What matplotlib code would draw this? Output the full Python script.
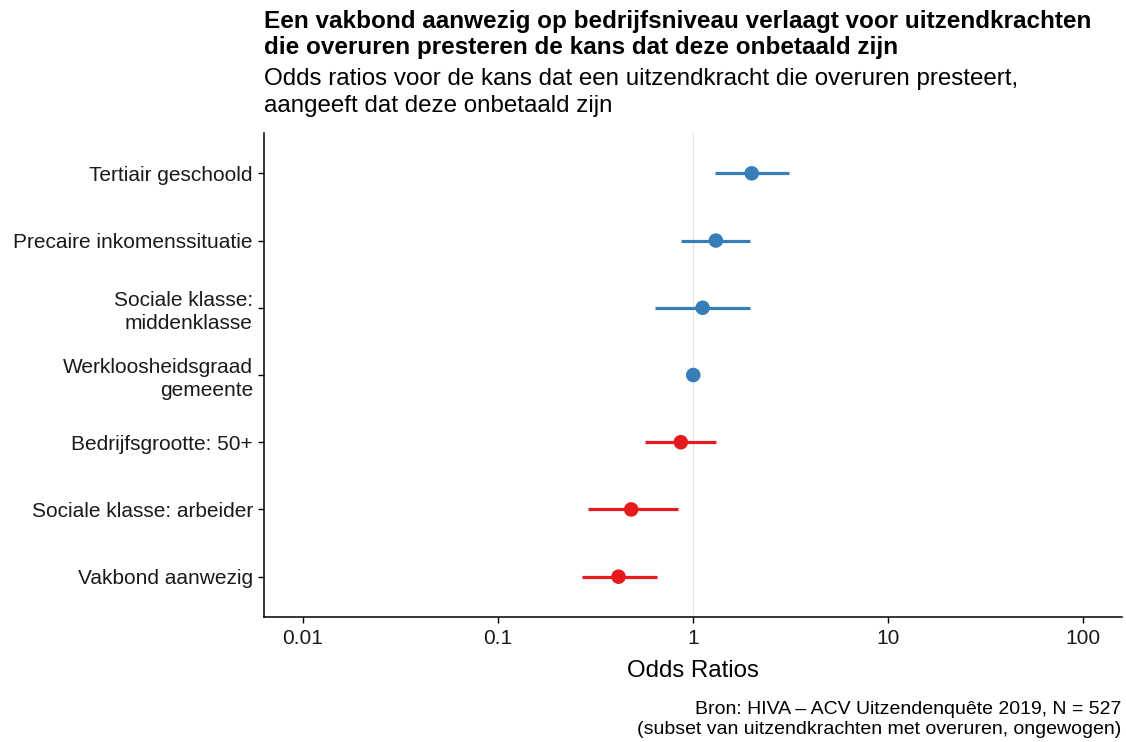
import matplotlib
matplotlib.use("Agg")
import matplotlib.pyplot as plt
from matplotlib.ticker import FixedLocator, NullLocator

plt.rcParams["font.family"] = ["Liberation Sans", "DejaVu Sans"]

# odds ratios with 95% confidence bounds, bottom row first
terms = [
    "Vakbond aanwezig",
    "Sociale klasse: arbeider",
    "Bedrijfsgrootte: 50+",
    "Werkloosheidsgraad\ngemeente",
    "Sociale klasse:\nmiddenklasse",
    "Precaire inkomenssituatie",
    "Tertiair geschoold",
]
estimate = [0.415, 0.482, 0.866, 1.003, 1.12, 1.31, 2.00]
conf_low = [0.271, 0.291, 0.570, 0.990, 0.641, 0.872, 1.30]
conf_high = [0.656, 0.842, 1.31, 1.015, 1.97, 1.97, 3.09]

x_ticks = [0.01, 0.1, 1, 10, 100]
x_tick_labels = ["0.01", "0.1", "1", "10", "100"]

BLUE = "#377EB8"
RED = "#E41A1C"

fig = plt.figure(figsize=(11.26, 7.42), dpi=100)
ax = fig.add_axes([264 / 1126, 125 / 742, 858 / 1126, 484 / 742])

ypos = list(range(len(terms)))
colors = [BLUE if e >= 1 else RED for e in estimate]

ax.axvline(1, color="#e3e3e3", lw=0.8, zorder=0)
ax.hlines(ypos, conf_low, conf_high, colors=colors, lw=2.3, zorder=2)
ax.scatter(estimate, ypos, s=110, c=colors, zorder=3, linewidths=0)

ax.set_xscale("log")
ax.set_xlim(10 ** -2.2, 10 ** 2.2)
ax.set_ylim(-0.6, len(terms) - 0.4)
ax.xaxis.set_major_locator(FixedLocator(x_ticks))
ax.xaxis.set_minor_locator(NullLocator())
ax.set_xticklabels(x_tick_labels)
ax.set_yticks(ypos)
ax.set_yticklabels(terms, linespacing=1.3)

for side in ("top", "right"):
    ax.spines[side].set_visible(False)
for side in ("left", "bottom"):
    ax.spines[side].set_linewidth(1.1)
ax.tick_params(axis="both", length=4, width=1.0, labelsize=15,
               labelcolor="#1a1a1a", pad=4)
ax.tick_params(axis="x", pad=5)

ax.set_xlabel("Odds Ratios", fontsize=17.3, labelpad=8)

fig.text(264 / 1126, 1 - 10 / 742,
         "Een vakbond aanwezig op bedrijfsniveau verlaagt voor uitzendkrachten\n"
         "die overuren presteren de kans dat deze onbetaald zijn",
         fontsize=17.5, fontweight="bold", ha="left", va="top", linespacing=1.15)
fig.text(264 / 1126, 1 - 68 / 742,
         "Odds ratios voor de kans dat een uitzendkracht die overuren presteert,\n"
         "aangeeft dat deze onbetaald zijn",
         fontsize=17.4, ha="left", va="top", linespacing=1.3)
fig.text(1121 / 1126, 4 / 742,
         "Bron: HIVA \u2013 ACV Uitzendenquête 2019, N = 527\n"
         "(subset van uitzendkrachten met overuren, ongewogen)",
         fontsize=14, ha="right", va="bottom", linespacing=1.25)

fig.savefig("out.png", dpi=100)
